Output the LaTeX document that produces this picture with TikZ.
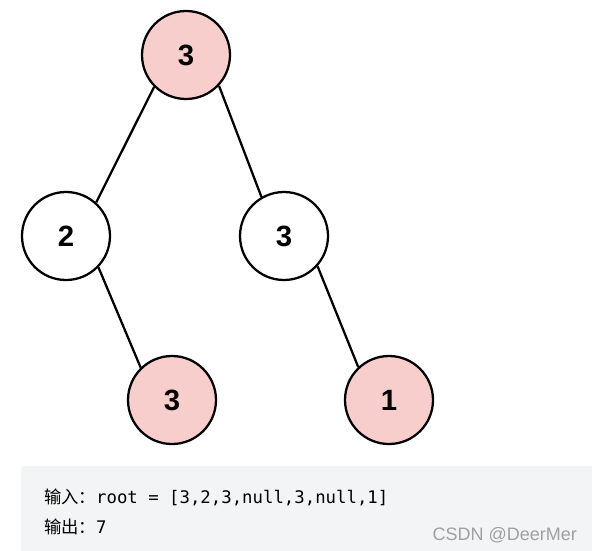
\documentclass[tikz,border=0pt]{standalone}
\usepackage{fontspec}
\setmonofont{DejaVu Sans Mono}
\newfontfamily\numfont{Liberation Sans}
\newfontfamily\cjk{Noto Sans CJK SC}
\usepackage{tikz}
\usetikzlibrary{positioning}
\definecolor{robpink}{HTML}{F8CECC}
\definecolor{boxgray}{HTML}{F3F4F5}
\definecolor{markgray}{HTML}{A0A0A0}

\begin{document}
\begin{tikzpicture}[
  x=0.75pt, y=-0.75pt,
  line width=1.7pt,
  treenode/.style={circle, draw=black, fill=white, minimum size=66pt,
    inner sep=0pt, font=\numfont\bfseries\fontsize{22pt}{22pt}\selectfont},
  robbed/.style={treenode, fill=robpink},
  codeline/.style={anchor=west, inner sep=0pt,
    font=\fontsize{13pt}{15pt}\selectfont}
]
\useasboundingbox (0,0) rectangle (592,550);

% 二叉树
\node[robbed]   (root) at (186,55)  {3};
\node[treenode] (l)    at (66,236)  {2};
\node[treenode] (r)    at (284,236) {3};
\node[robbed]   (lr)   at (172,400) {3};
\node[robbed]   (rr)   at (389,400) {1};

\draw (root.225) -- (l.48);
\draw (root.317) -- (r.120);
\draw (l.316)    -- (lr.134);
\draw (r.318)    -- (rr.133);

% 示例说明
\begin{scope}
  \clip (0,0) rectangle (592,550);
  \fill[boxgray, rounded corners=3pt] (21,466) rectangle (600,560);
  \node[codeline] (inp) at (43,497)
    {{\cjk 输入：}\ttfamily root = [3,2,3,null,3,null,1]};
  \node[codeline] (outp) at (43,527) {{\cjk 输出：}\ttfamily 7};
  \node[codeline] (expl) at (43,560) {\cjk 解释：小偷一晚能够盗取的最高金额};
  \node[anchor=east, inner sep=0pt, text=markgray,
    font=\numfont\fontsize{13.5pt}{15pt}\selectfont] (mark) at (578,535)
    {CSDN @DeerMer};
\end{scope}

\end{tikzpicture}
\end{document}
